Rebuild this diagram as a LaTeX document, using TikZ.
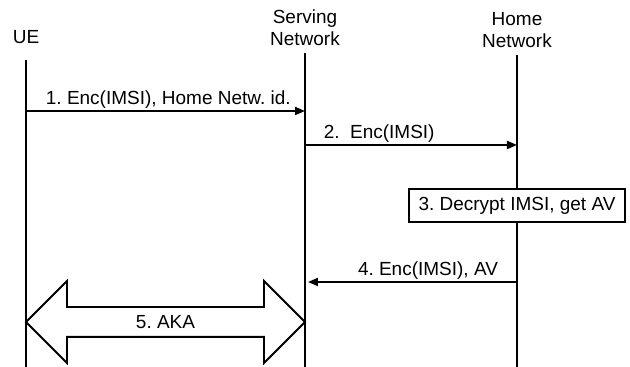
\documentclass[tikz,border=0pt]{standalone}
\usepackage{fontspec}
\setmainfont{Liberation Sans}
\usetikzlibrary{arrows.meta,shapes.arrows}
\frenchspacing
\begin{document}
\begin{tikzpicture}[
		every node/.style={font=\fontsize{10.8}{12.5}\selectfont},
		lifeline/.style={line width=1.1pt},
		msg/.style={line width=1.1pt,-{Triangle[length=0.2cm,width=0.16cm]}},
		lbl/.style={anchor=base,yshift=0.12cm,inner sep=0pt},
		stepbox/.style={draw,line width=1.1pt,fill=white,minimum width=4.32cm,minimum height=0.66cm,inner sep=0pt},
		akaarrow/.style={double arrow,draw,line width=1.1pt,fill=white,double arrow head extend=0.52cm,minimum height=5.58cm,minimum width=1.6cm,text height=0.28cm,text depth=0cm,inner ysep=0.14cm,inner xsep=0pt}
	]
			\useasboundingbox (0,0) rectangle (12.6,-7.34);
			\node[anchor=base,inner sep=0pt] (UE) at (0.52,-0.88) {UE};
			\node[anchor=south,align=center,inner sep=0pt] (SN) at (6.10,-0.92) {Serving\\Network};
			\node[anchor=south,align=center,inner sep=0pt] (HN) at (10.34,-0.96) {Home\\Network};
			\coordinate (UEt) at (0.52,-1.20);
			\coordinate (UEb) at (0.52,-7.34);
			\coordinate (SNt) at (6.10,-1.06);
			\coordinate (SNb) at (6.10,-7.34);
			\coordinate (HNt) at (10.34,-1.10);
			\coordinate (HNb) at (10.34,-7.34);
			\coordinate (U1) at (0.52,-2.22);
			\coordinate (S1) at (6.10,-2.22);
			\coordinate (S2) at (6.10,-2.90);
			\coordinate (H2) at (10.34,-2.90);
			\coordinate (H4) at (10.34,-5.64);
			\coordinate (S4) at (6.10,-5.64);
			\draw[lifeline] (UEt) to (UEb);
			\draw[lifeline] (SNt) to (SNb);
			\draw[lifeline] (HNt) to (HNb);
			\draw[msg] (U1) to node[lbl,pos=0.51] {1. Enc(IMSI), Home Netw. id.} (S1);
			\draw[msg] (S2) to node[lbl,pos=0.35] {2.\ \ Enc(IMSI)} (H2);
			\node[stepbox] (dec) at (10.34,-4.11) {3. Decrypt IMSI, get AV};
			\draw[msg,shorten >=0.06cm] (H4) to node[lbl,pos=0.42] {4. Enc(IMSI), AV} (S4);
			\node[akaarrow] (aka) at (3.31,-6.44) {5. AKA};
		\end{tikzpicture}
\end{document}
